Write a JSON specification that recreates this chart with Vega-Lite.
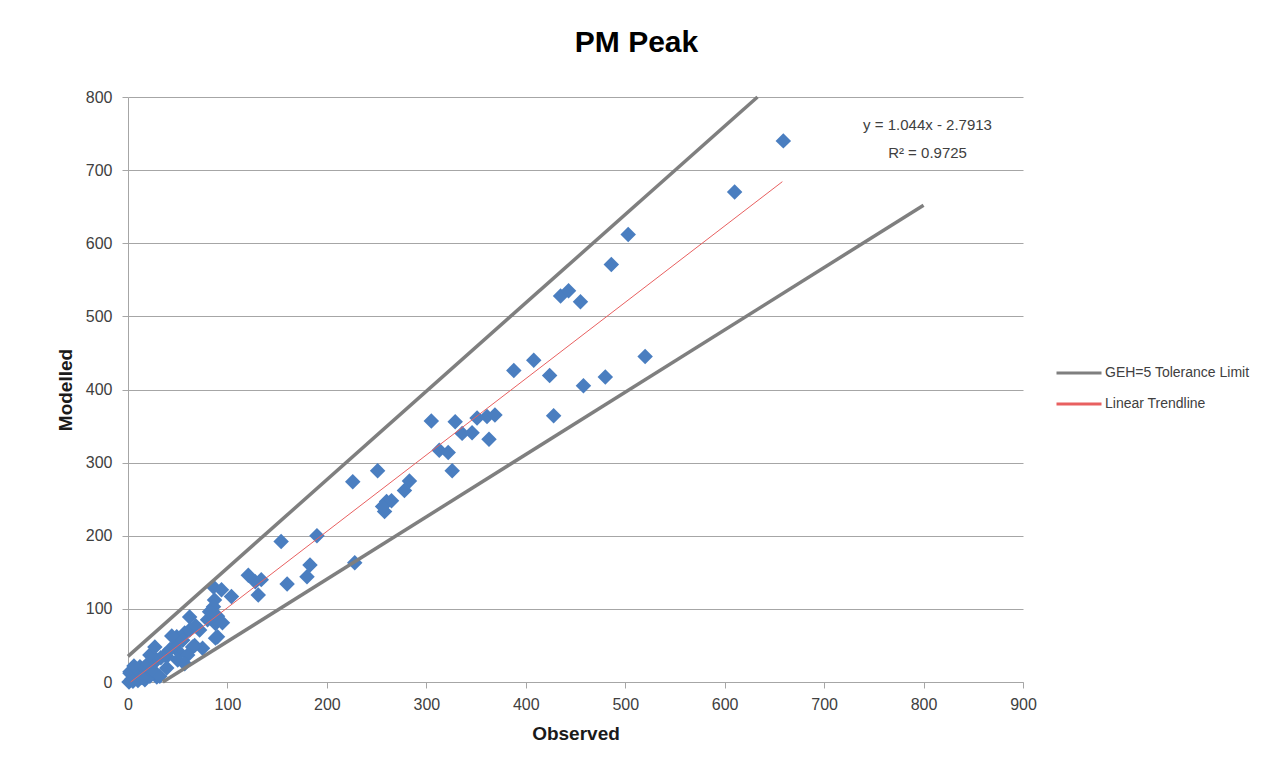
{
  "$schema": "https://vega.github.io/schema/vega-lite/v6.json",
  "autosize": "none",
  "width": 895,
  "height": 585,
  "padding": {"left": 128, "top": 97, "right": 243, "bottom": 100},
  "background": "white",
  "config": {
    "font": "Liberation Sans",
    "view": {"stroke": null},
    "axis": {
      "labelFont": "Liberation Sans",
      "labelFontSize": 16,
      "labelColor": "#404040",
      "titleFont": "Liberation Sans",
      "titleFontSize": 19,
      "titleFontWeight": "bold",
      "titleColor": "#1a1a1a",
      "domainColor": "#a6a6a6",
      "tickColor": "#a6a6a6",
      "gridColor": "#a6a6a6",
      "tickSize": 6,
      "labelFlush": false
    }
  },
  "title": {
    "text": "PM Peak",
    "fontSize": 30,
    "fontWeight": "bold",
    "font": "Liberation Sans",
    "color": "#000000",
    "anchor": "middle",
    "dx": 61,
    "offset": 31
  },
  "datasets": {
    "points": [
      {"obs": 659, "mod": 740}, {"obs": 610, "mod": 670}, {"obs": 503, "mod": 612}, {"obs": 486, "mod": 571},
      {"obs": 435, "mod": 528}, {"obs": 443, "mod": 535}, {"obs": 455, "mod": 520}, {"obs": 388, "mod": 426},
      {"obs": 408, "mod": 440}, {"obs": 424, "mod": 419}, {"obs": 458, "mod": 405}, {"obs": 480, "mod": 417},
      {"obs": 520, "mod": 445}, {"obs": 428, "mod": 364}, {"obs": 305, "mod": 357}, {"obs": 329, "mod": 356},
      {"obs": 336, "mod": 340}, {"obs": 346, "mod": 341}, {"obs": 351, "mod": 361}, {"obs": 361, "mod": 363},
      {"obs": 369, "mod": 365}, {"obs": 363, "mod": 332}, {"obs": 313, "mod": 317}, {"obs": 322, "mod": 314},
      {"obs": 326, "mod": 289}, {"obs": 251, "mod": 289}, {"obs": 226, "mod": 274}, {"obs": 283, "mod": 275},
      {"obs": 278, "mod": 262}, {"obs": 260, "mod": 247}, {"obs": 265, "mod": 248}, {"obs": 258, "mod": 233},
      {"obs": 256, "mod": 240}, {"obs": 190, "mod": 200}, {"obs": 154, "mod": 192}, {"obs": 228, "mod": 163},
      {"obs": 183, "mod": 160}, {"obs": 180, "mod": 144}, {"obs": 160, "mod": 134}, {"obs": 121, "mod": 146},
      {"obs": 128, "mod": 137}, {"obs": 134, "mod": 140}, {"obs": 131, "mod": 119}, {"obs": 86, "mod": 130},
      {"obs": 94, "mod": 126}, {"obs": 104, "mod": 117},
      {"obs": 62, "mod": 89}, {"obs": 87, "mod": 112}, {"obs": 88, "mod": 80}, {"obs": 90, "mod": 62},
      {"obs": 72, "mod": 71}, {"obs": 49, "mod": 62}, {"obs": 75, "mod": 46}, {"obs": 65, "mod": 48},
      {"obs": 29, "mod": 30}, {"obs": 12, "mod": 21}, {"obs": 39, "mod": 35}, {"obs": 52, "mod": 40},
      {"obs": 29, "mod": 7}, {"obs": 2, "mod": 12}, {"obs": 1, "mod": 0}, {"obs": 4, "mod": 4},
      {"obs": 8, "mod": 8}, {"obs": 2, "mod": 14}, {"obs": 12, "mod": 14}, {"obs": 16, "mod": 19},
      {"obs": 20, "mod": 25}, {"obs": 17, "mod": 3}, {"obs": 22, "mod": 8}, {"obs": 25, "mod": 16},
      {"obs": 33, "mod": 33}, {"obs": 37, "mod": 37}, {"obs": 42, "mod": 44}, {"obs": 47, "mod": 50},
      {"obs": 52, "mod": 57}, {"obs": 44, "mod": 63}, {"obs": 57, "mod": 67}, {"obs": 62, "mod": 71},
      {"obs": 68, "mod": 77}, {"obs": 80, "mod": 85}, {"obs": 86, "mod": 103}, {"obs": 82, "mod": 96},
      {"obs": 90, "mod": 90}, {"obs": 95, "mod": 81}, {"obs": 88, "mod": 60}, {"obs": 60, "mod": 37},
      {"obs": 32, "mod": 8}, {"obs": 39, "mod": 19}, {"obs": 50, "mod": 30}, {"obs": 57, "mod": 25},
      {"obs": 67, "mod": 50}, {"obs": 55, "mod": 57}, {"obs": 22, "mod": 37}, {"obs": 27, "mod": 48},
      {"obs": 6, "mod": 22}, {"obs": 5, "mod": 1}, {"obs": 10, "mod": 2}, {"obs": 14, "mod": 6}
    ],
    "geh": [
      {"obs": 0, "mod": 35, "line": "upper", "series": "GEH=5 Tolerance Limit"},
      {"obs": 633, "mod": 800, "line": "upper", "series": "GEH=5 Tolerance Limit"},
      {"obs": 35, "mod": 0, "line": "lower", "series": "GEH=5 Tolerance Limit"},
      {"obs": 800, "mod": 652, "line": "lower", "series": "GEH=5 Tolerance Limit"}
    ],
    "trend": [
      {"obs": 2.7, "mod": 0, "series": "Linear Trendline"},
      {"obs": 658, "mod": 684.2, "series": "Linear Trendline"}
    ],
    "eq": [
      {"obs": 804, "mod": 762, "label": "y = 1.044x - 2.7913"},
      {"obs": 804, "mod": 724, "label": "R² = 0.9725"}
    ]
  },
  "layer": [
    {
      "data": {"name": "points"},
      "mark": {"type": "point", "shape": "diamond", "filled": true, "size": 240, "color": "#4a7ec0", "opacity": 1},
      "encoding": {
        "x": {
          "field": "obs", "type": "quantitative", "title": "Observed",
          "scale": {"domain": [0, 900], "nice": false},
          "axis": {"values": [0, 100, 200, 300, 400, 500, 600, 700, 800, 900], "grid": false, "labelPadding": 8, "titlePadding": 12}
        },
        "y": {
          "field": "mod", "type": "quantitative", "title": "Modelled",
          "scale": {"domain": [0, 800], "nice": false},
          "axis": {"values": [0, 100, 200, 300, 400, 500, 600, 700, 800], "grid": true, "labelPadding": 10, "titlePadding": 10}
        }
      }
    },
    {
      "data": {"name": "geh"},
      "mark": {"type": "line", "strokeWidth": 3.5},
      "encoding": {
        "x": {"field": "obs", "type": "quantitative"},
        "y": {"field": "mod", "type": "quantitative"},
        "detail": {"field": "line"},
        "color": {
          "field": "series", "type": "nominal",
          "scale": {"domain": ["GEH=5 Tolerance Limit", "Linear Trendline"], "range": ["#7f7f7f", "#e86060"]},
          "legend": {
            "title": null, "orient": "none", "legendX": 927, "legendY": 252,
            "symbolType": "stroke", "symbolSize": 2025, "symbolStrokeWidth": 3,
            "labelFontSize": 14, "labelColor": "#404040", "labelFont": "Liberation Sans",
            "rowPadding": 0, "labelOffset": 2
          }
        }
      }
    },
    {
      "data": {"name": "trend"},
      "mark": {"type": "line", "strokeWidth": 1},
      "encoding": {
        "x": {"field": "obs", "type": "quantitative"},
        "y": {"field": "mod", "type": "quantitative"},
        "color": {"field": "series", "type": "nominal"}
      }
    },
    {
      "data": {"name": "eq"},
      "mark": {"type": "text", "fontSize": 15, "color": "#404040", "font": "Liberation Sans", "align": "center", "baseline": "middle"},
      "encoding": {
        "x": {"field": "obs", "type": "quantitative"},
        "y": {"field": "mod", "type": "quantitative"},
        "text": {"field": "label"}
      }
    }
  ]
}
